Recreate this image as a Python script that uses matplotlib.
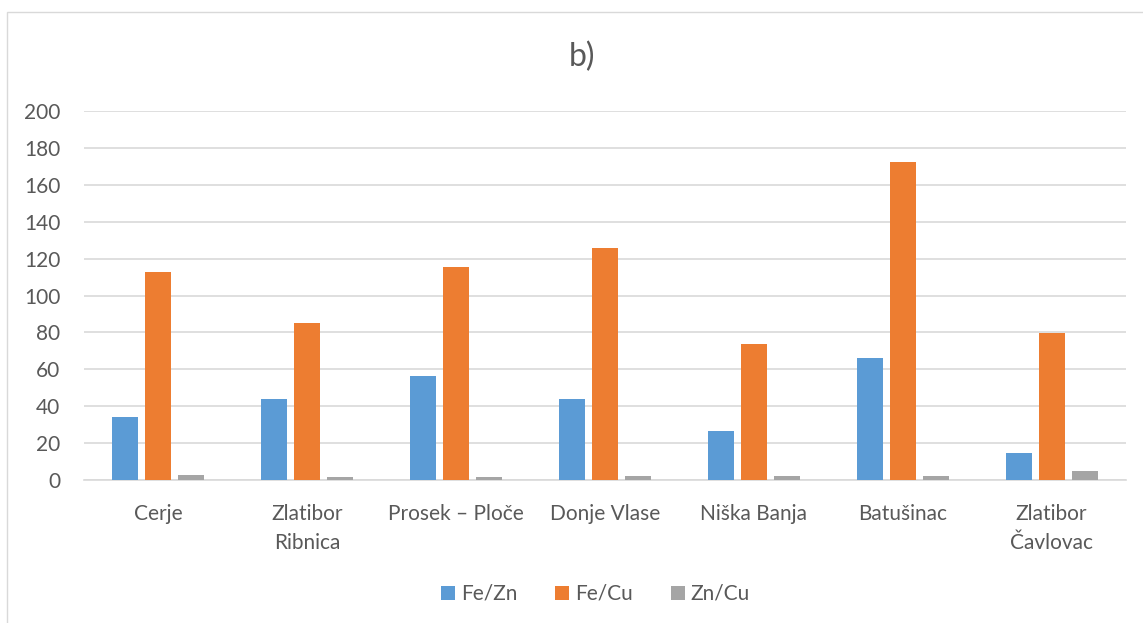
"""
Fe/Zn, Fe/Cu and Zn/Cu ratios per location, panel b).
"""

import matplotlib.pyplot as plt
import numpy as np
from matplotlib.patches import Rectangle

plt.rcParams["font.family"] = ["Lato", "DejaVu Sans"]

# ===============================
# Data
# ===============================

locations = [
    "Cerje",
    "Zlatibor\nRibnica",
    "Prosek – Ploče",
    "Donje Vlase",
    "Niška Banja",
    "Batušinac",
    "Zlatibor\nČavlovac",
]

fe_zn = [34.0, 44.0, 56.4, 44.0, 26.4, 66.1, 14.7]
fe_cu = [112.7, 85.1, 115.3, 125.7, 73.6, 172.5, 79.9]
zn_cu = [2.9, 1.6, 1.6, 2.4, 2.4, 2.2, 4.9]

yticks = [0, 20, 40, 60, 80, 100, 120, 140, 160, 180, 200]

# ===============================
# Plot
# ===============================

text_col = "#595959"
grid_col = "#D9D9D9"

fig = plt.figure(figsize=(11.43, 6.23), dpi=100)

# chart area border
fig.patches.append(
    Rectangle((7 / 1143, -0.01), 1.0, 0.991,
              transform=fig.transFigure, fill=False,
              edgecolor="#D9D9D9", linewidth=1.0)
)

ax = fig.add_axes([84 / 1143, 1 - 480 / 623, (1126 - 84) / 1143, (480 - 111) / 623])

x = np.arange(len(locations))
w = 0.175
step = 0.222

ax.bar(x - step, fe_zn, width=w, color="#5B9BD5", label="Fe/Zn", zorder=3)
ax.bar(x, fe_cu, width=w, color="#ED7D31", label="Fe/Cu", zorder=3)
ax.bar(x + step, zn_cu, width=w, color="#A5A5A5", label="Zn/Cu", zorder=3)

ax.set_xlim(-0.5, len(locations) - 0.5)
ax.set_ylim(0, 200)
ax.set_yticks(yticks)
ax.set_xticks(x)
ax.set_xticklabels(locations, linespacing=1.6)

ax.grid(axis="y", color=grid_col, linewidth=1.2, zorder=0)
ax.set_axisbelow(True)

for side in ["top", "right", "left"]:
    ax.spines[side].set_visible(False)
ax.spines["bottom"].set_color(grid_col)
ax.spines["bottom"].set_linewidth(1.2)

ax.tick_params(axis="both", length=0, labelsize=15, colors=text_col)
ax.tick_params(axis="x", pad=17)
ax.tick_params(axis="y", pad=17)

fig.text(582 / 1143, 1 - 57 / 623, "b)", ha="center", va="center",
         fontsize=23, color=text_col)

fig.legend(
    loc="center",
    bbox_to_anchor=(0.521, 1 - 594 / 623),
    ncol=3,
    frameon=False,
    fontsize=15,
    labelcolor=text_col,
    handlelength=0.67,
    handleheight=0.67,
    handletextpad=0.3,
    columnspacing=1.8,
)

plt.savefig("out.png", dpi=100)
